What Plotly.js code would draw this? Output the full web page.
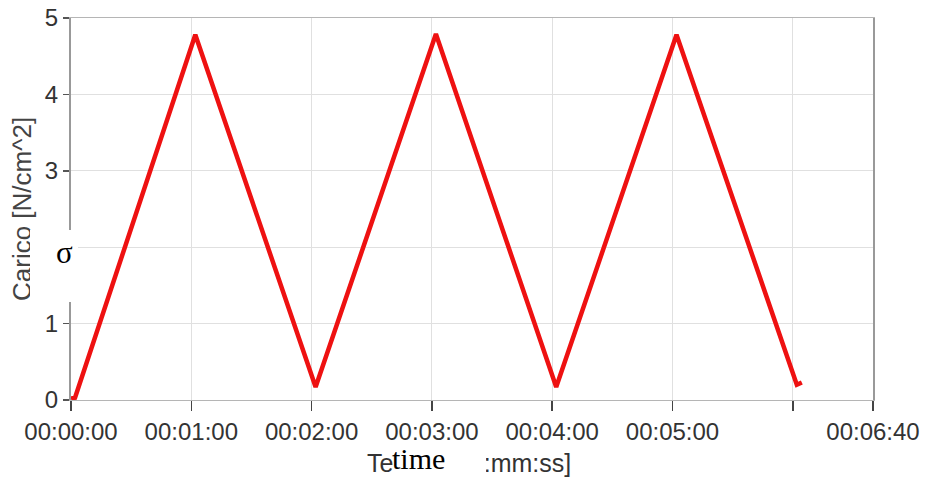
<!DOCTYPE html>
<html>
<head>
<meta charset="utf-8">
<script src="https://cdn.plot.ly/plotly-3.0.1.min.js"></script>
<style>html,body{margin:0;padding:0;background:#fff;}#chart{width:928px;height:477px;}</style>
</head>
<body>
<div id="chart"></div>
<script>
// Time in seconds
var timeSec = [0, 2, 62, 122, 182, 242, 302, 362, 364.5];
// Load [N/cm^2]
var load = [0.02, 0.03, 4.78, 0.17, 4.79, 0.17, 4.78, 0.2, 0.23];
var tickVals = [0, 60, 120, 180, 240, 300, 360, 400];
var tickLabels = ["00:00:00", "00:01:00", "00:02:00", "00:03:00", "00:04:00", "00:05:00", "", "00:06:40"];
var yTicks = [0, 1, 2, 3, 4, 5];

var trace = {
  x: timeSec, y: load, type: 'scatter', mode: 'lines',
  line: {color: '#ee1111', width: 4.5},
  hoverinfo: 'skip'
};

var serif = 'Liberation Serif, Times New Roman, serif';

var layout = {
  width: 928, height: 477,
  margin: {l: 71, r: 55, t: 18, b: 77},
  paper_bgcolor: '#ffffff', plot_bgcolor: '#ffffff',
  showlegend: false,
  font: {family: 'Liberation Sans, Arial, sans-serif', size: 24, color: '#333'},
  xaxis: {
    range: [0, 400], tickvals: tickVals, ticktext: tickLabels,
    showgrid: true, gridcolor: '#e0e0e0', gridwidth: 1,
    showline: true, linecolor: '#b5b5b5', linewidth: 1, mirror: true,
    ticks: 'outside', ticklen: 10, tickcolor: '#444', tickwidth: 1.5,
    tickfont: {size: 24, color: '#333'}, zeroline: false
  },
  yaxis: {
    range: [0, 5], tickvals: yTicks,
    showgrid: true, gridcolor: '#e0e0e0', gridwidth: 1,
    showline: true, linecolor: '#999999', linewidth: 2, mirror: true,
    ticks: 'outside', ticklen: 6, tickcolor: '#555', tickwidth: 1.5,
    tickfont: {size: 24, color: '#333'}, zeroline: false
  },
  annotations: [
    {text: 'Carico [N/cm^2]', xref: 'paper', yref: 'paper', x: -0.0611, y: 0.5, textangle: -90,
     showarrow: false, xanchor: 'center', yanchor: 'middle', font: {size: 26, color: '#444'}},
    {text: 'Tempo [hh:mm:ss]', xref: 'paper', yref: 'paper', x: 0.4957, y: -0.165,
     showarrow: false, xanchor: 'center', yanchor: 'middle', font: {size: 25, color: '#333'}},
    // white cover boxes
    {text: ' ', xref: 'paper', yref: 'paper', x: -0.0212, y: 0.3508, width: 48, height: 72,
     bgcolor: '#ffffff', borderpad: 0, borderwidth: 0,
     showarrow: false, xanchor: 'center', yanchor: 'middle', font: {size: 10}},
    {text: ' ', xref: 'paper', yref: 'paper', x: 0.4601, y: -0.1597, width: 92, height: 32,
     bgcolor: '#ffffff', borderpad: 0, borderwidth: 0,
     showarrow: false, xanchor: 'center', yanchor: 'middle', font: {size: 10}},
    {text: 'σ', xref: 'paper', yref: 'paper', x: -0.008, y: 0.385,
     showarrow: false, xanchor: 'center', yanchor: 'middle', font: {family: serif, size: 31, color: '#000'}},
    {text: 'time', xref: 'paper', yref: 'paper', x: 0.4335, y: -0.153,
     showarrow: false, xanchor: 'center', yanchor: 'middle', font: {family: serif, size: 30, color: '#000'}}
  ]
};

Plotly.newPlot('chart', [trace], layout, {displayModeBar: false, staticPlot: true});
</script>
</body>
</html>
